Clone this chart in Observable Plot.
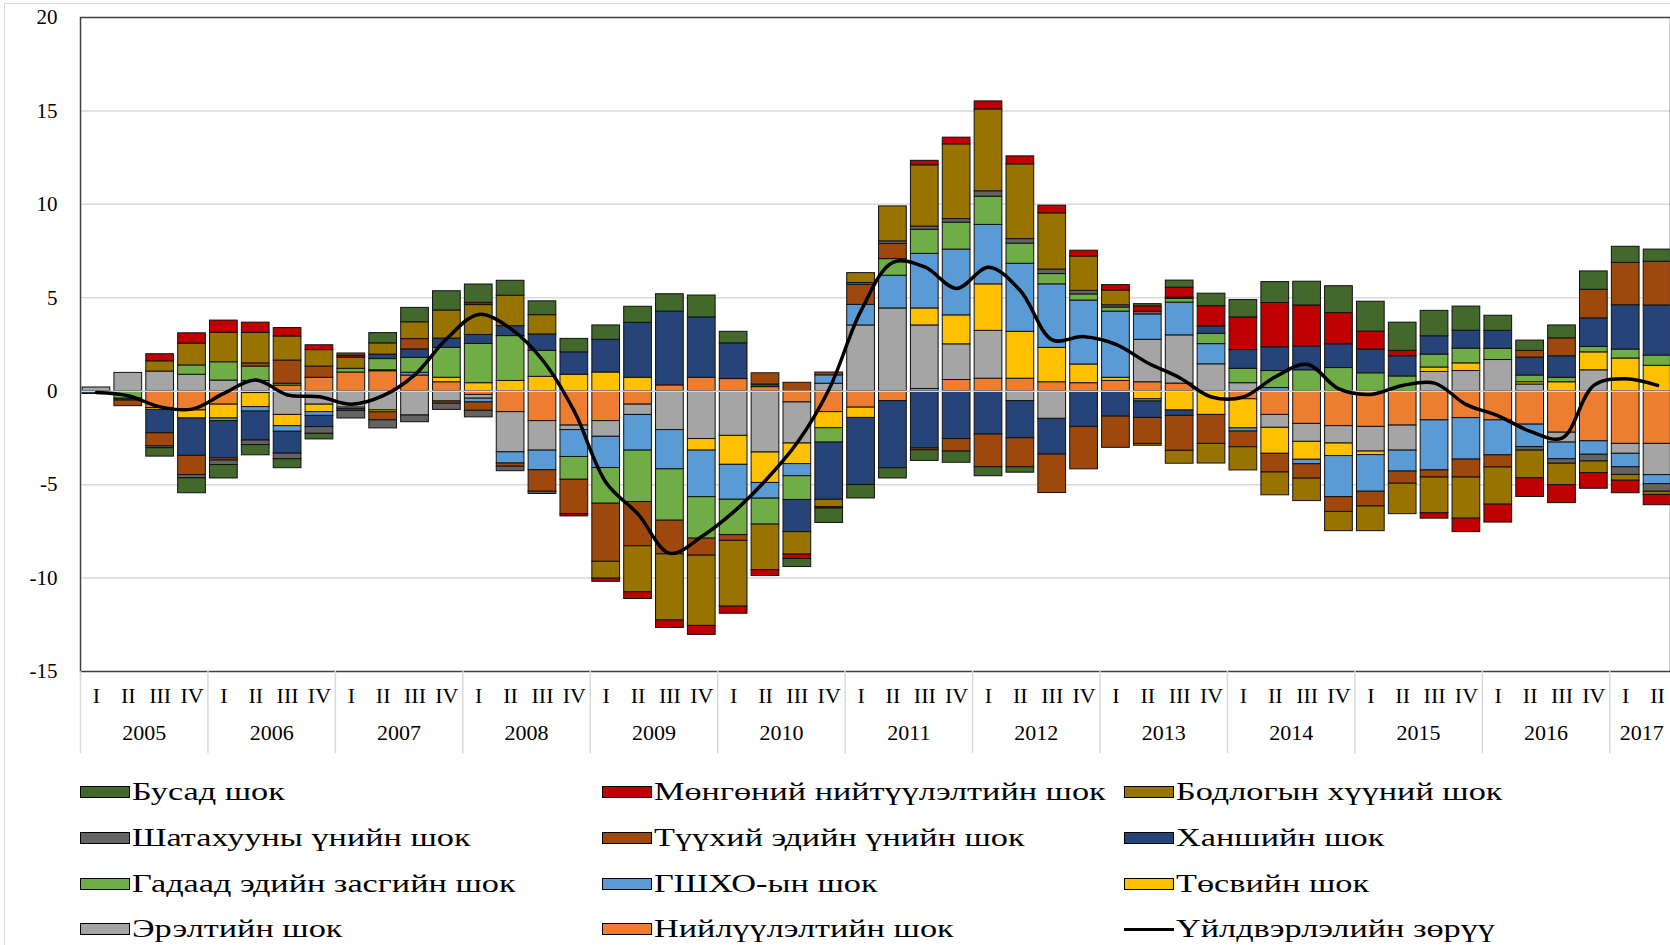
<!DOCTYPE html>
<html>
<head>
<meta charset="utf-8">
<script src="https://cdn.jsdelivr.net/npm/d3@7"></script>
<script src="https://cdn.jsdelivr.net/npm/@observablehq/plot@0.6"></script>
<style>
  html, body { margin: 0; padding: 0; background: #fff; }
  #wrap { position: relative; width: 1670px; height: 945px; overflow: hidden; font-family: "Liberation Serif", "Times New Roman", serif; }
  #border { position: absolute; left: 4px; top: 3px; width: 1700px; height: 1000px; border-left: 1.5px solid #d9d9d9; border-top: 1.5px solid #d9d9d9; pointer-events: none; z-index: 5; }
  #chart { position: absolute; left: 0; top: 0; }
  .leg { position: absolute; height: 30px; display: flex; align-items: center; white-space: nowrap; }
  .sw { width: 50px; height: 12px; box-sizing: border-box; border: 1px solid #000; flex: none; }
  .ln { width: 50px; height: 3px; background: #000; flex: none; }
  .lt { display: inline-block; margin-left: 2px; font-size: 25px; color: #000; transform: scaleX(1.37); transform-origin: 0 50%; }
</style>
</head>
<body>
<div id="wrap"><div id="chart"></div><div id="legend"></div><div id="border"></div></div>
<script>
// ---- categories / tick labels ----
const years = [2005, 2006, 2007, 2008, 2009, 2010, 2011, 2012, 2013, 2014, 2015, 2016, 2017];
const quarterLabels = ["I", "II", "III", "IV"];
const nQuarters = 50;

// ---- series (stack order from zero outward) ----
const seriesNames = [
  "Нийлүүлэлтийн шок", "Эрэлтийн шок", "Төсвийн шок", "ГШХО-ын шок", "Гадаад эдийн засгийн шок",
  "Ханшийн шок", "Түүхий эдийн үнийн шок", "Шатахууны үнийн шок", "Бодлогын хүүний шок",
  "Мөнгөний нийтүүлэлтийн шок", "Бусад шок"
];
const seriesColors = [
  "#ED7D31", "#A5A5A5", "#FFC000", "#5B9BD5", "#70AD47",
  "#264478", "#9E480E", "#636363", "#997300", "#C00000", "#43682B"
];
const lineName = "Үйлдвэрлэлийн зөрүү";

const supplyShock = [-0.05,0,-0.9,-1.03, -0.72,-0.1,0.3,0.72, 1.0,1.07,0.84,0.48, -0.2,-1.12,-1.6,-1.84, -1.6,-0.72,0.31,0.72, 0.65,0.22,-0.6,-1.12, -0.88,-0.53,0.12,0.6, 0.67,0.67,0.48,0.43, 0.55,0.48,0.41,0, -0.43,-1.27,-1.75,-1.87, -1.91,-1.84,-1.56,-1.44, -1.56,-1.79,-2.22,-2.68, -2.82,-2.82];
const demandShock = [0.2,0.98,1.05,0.88, 0.57,0.55,-1.27,-0.72, -0.88,-1.03,-1.3,-0.55, -0.2,-2.15,-1.58,-0.24, -0.84,-0.55,-2.08,-2.56, -2.39,-3.28,-2.2,0.4, 3.52,4.43,3.4,1.91, 2.56,-0.53,-1.48,0, 0,2.27,2.58,1.44, 0.43,-0.69,-0.96,-0.93, -1.32,-1.34,1.03,1.08, 1.67,0.36,-0.53,1.12, -0.53,-1.67];
const fiscalShock = [0,0,-0.1,-0.43, -0.74,-0.75,-0.6,-0.4, -0.08,-0.1,0,0.24, 0.43,0.55,0.77,0.88, 1.0,0.72,0,-0.62, -1.55,-1.63,-1.1,-0.86, -0.55,0,0.91,1.55, 2.49,2.51,1.84,1.0, 0.17,-0.43,-1.03,-1.27, -1.56,-1.39,-0.96,-0.67, -0.19,0,0.24,0.41, 0,0.12,0.48,0.96, 1.75,1.36];
const fdiShock = [0,0,0,0, -0.14,-0.24,-0.3,-0.2, 0,0.05,0.15,0, -0.2,-0.6,-1.05,-1.44, -1.67,-1.91,-2.1,-2.49, -1.87,-0.84,-0.65,0.45, 1.1,1.75,2.92,3.52, 3.18,3.64,3.4,3.42, 3.54,1.36,1.75,1.08, -0.17,0.17,-0.24,-2.2, -1.96,-1.12,-2.68,-2.22, -1.87,-1.2,-0.89,-0.72, -0.72,-0.48];
const externalShock = [0,-0.4,0,0.5, 0.98,0.77,0.1,0, 0.2,0.6,0.8,1.6, 2.1,2.4,1.39,-1.22, -1.91,-2.75,-2.75,-2.22, -1.89,-1.39,-1.27,-0.77, 0,0.89,1.29,1.44, 1.51,1.08,0.55,0.33, 0.22,-0.12,0.2,0.55, 0.77,0.91,1.12,1.24, 0.96,0.79,0.69,0.79, 0.6,0.36,0.24,0.29, 0.48,0.55];
const exchangeShock = [-0.1,-0.1,-1.25,-2.0, -1.99,-1.55,-1.17,-0.6, -0.1,0.24,0.45,0.5, 0.48,0.53,0.88,1.2, 1.75,2.94,3.95,3.23, 1.91,0.14,-1.72,-3.06, -3.59,-3.59,-3.06,-2.56, -2.32,-1.99,-1.91,-1.91, -1.36,-0.88,-0.29,0.4, 1.0,1.27,1.27,1.27, 1.27,1.08,0.98,0.96, 0.96,0.96,1.15,1.53, 2.37,2.68];
const commodityShock = [0,-0.3,-0.7,-1.03, -0.12,0.17,1.24,0.6, 0,-0.43,0.55,-0.12, -0.45,-0.17,-1.15,-1.84, -3.11,-2.37,-1.8,-0.91, -0.31,0.6,0.45,0.15, 1.07,0.81,-0.1,-0.67, -1.75,-1.55,-2.06,-2.27, -1.67,-1.39,-1.87,-1.55, -0.84,-1.0,-0.77,-0.79, -0.79,-0.65,-0.38,-0.96, -0.65,0.36,0.96,1.53, 2.27,2.34];
const fuelShock = [0,0,-0.1,-0.17, -0.24,-0.24,-0.3,-0.36, -0.4,-0.43,-0.36,-0.33, -0.35,-0.24,-0.12,0, 0,0,0,0, 0,0,0,0, 0.1,0.14,0.17,0.19, 0.29,0.24,0.24,0.19, 0.12,0.14,0.07,0, 0,0,0,0, 0,0,0,0, 0,-0.19,-0.24,-0.36, -0.41,-0.41];
const policyRateShock = [0,0,0.55,1.17, 1.58,1.63,1.29,0.88, 0.6,0.6,0.9,1.5, 1.6,1.63,1.03,0, -0.9,-2.46,-3.54,-3.76, -3.52,-2.44,-1.2,-0.4, 0.53,1.87,3.28,4.0, 4.38,4.0,3.01,1.84, 0.79,-0.1,-0.69,-1.05, -1.24,-1.22,-1.2,-1.03, -1.32,-1.63,-1.91,-2.2, -1.99,-1.48,-1.15,-0.62, -0.31,-0.17];
const moneySupplyShock = [0,0,0.38,0.55, 0.65,0.55,0.45,0.26, 0.1,0,0,0, 0.12,0,0,-0.12, -0.17,-0.36,-0.4,-0.48, -0.38,-0.31,-0.24,-0.07, 0,0,0.24,0.36, 0.43,0.43,0.41,0.31, 0.29,0.29,0.53,1.08, 1.75,2.37,2.2,1.67, 0.96,0.29,-0.29,-0.72, -0.96,-1.0,-0.96,-0.84, -0.67,-0.55];
const otherShock = [0,0,-0.45,-0.8, -0.72,-0.55,-0.48,-0.3, 0.12,0.55,0.77,1.03, 0.98,0.8,0.74,0.72, 0.77,0.86,0.93,1.17, 0.62,0,-0.43,-0.77, -0.72,-0.55,-0.57,-0.6, -0.48,-0.29,0,0, 0,0.12,0.38,0.67, 0.93,1.12,1.27,1.44, 1.6,1.51,1.36,1.29, 0.81,0.55,0.69,0.98, 0.86,0.65];
const outputGap = [-0.07,-0.24,-0.84,-0.96, -0.12,0.6,-0.2,-0.3, -0.7,-0.24,0.89,2.82, 4.11,3.35,1.67,-1.08, -4.9,-6.58,-8.68,-7.78, -6.46,-4.78,-2.75,0.12, 4.31,6.9,6.65,5.5, 6.63,5.38,2.75,2.92, 2.51,1.51,0.72,-0.31, -0.31,0.77,1.44,0.12, -0.17,0.31,0.43,-0.72, -1.32,-2.15,-2.51,0.31, 0.67,0.31];

const seriesValues = [supplyShock, demandShock, fiscalShock, fdiShock, externalShock, exchangeShock,
  commodityShock, fuelShock, policyRateShock, moneySupplyShock, otherShock];
const yTicks = [-15, -10, -5, 0, 5, 10, 15, 20];

// ---- build tables ----
const keys = [];
years.forEach(y => quarterLabels.forEach(q => keys.push(y + "-" + q)));
const qKeys = keys.slice(0, nQuarters);

const bars = [];
qKeys.forEach((k, i) => {
  seriesNames.forEach((s, j) => {
    const v = seriesValues[j][i];
    if (v !== 0) bars.push({q: k, series: s, value: v});
  });
});
const lineData = qKeys.map((k, i) => ({q: k, v: outputGap[i]}));

const x0 = 80, x1 = 1673, pIn = 0.13, pOut = 0.065;
const step = (x1 - x0) / (nQuarters - pIn + 2 * pOut);
const font = '"Liberation Serif", "Times New Roman", serif';

const yearCenters = years.map(y => {
  const n = qKeys.filter(k => k.startsWith(y + "-")).length;
  return {year: String(y), key: n === 4 ? y + "-II" : y + "-I"};
});
const yearStarts = years.map(y => y + "-I");
const firstKey = qKeys[0];

const plot = Plot.plot({
  width: 1670,
  height: 770,
  marginTop: 17,
  marginBottom: 99,
  marginLeft: 80,
  marginRight: 0,
  style: {overflow: "visible", background: "transparent"},
  x: {domain: qKeys, range: [x0, x1], paddingInner: pIn, paddingOuter: pOut, axis: null},
  y: {domain: [-15, 20], axis: null},
  color: {domain: seriesNames, range: seriesColors},
  marks: [
    Plot.ruleY([15, 10, 5, -5, -10], {stroke: "#d9d9d9", strokeWidth: 1.5}),
    Plot.barY(bars, {x: "q", y: "value", fill: "series", stroke: "#111", strokeWidth: 1, order: null}),
    Plot.ruleY([0], {stroke: "#d4d4d4", strokeWidth: 1.5}),
    Plot.line(lineData, {x: "q", y: "v", curve: "catmull-rom", stroke: "#000", strokeWidth: 3.5}),
    Plot.frame({stroke: "#404040", strokeWidth: 1.5}),
    Plot.ruleX(yearStarts, {x: d => d, y1: -15, y2: -19.4, dx: -step / 2, stroke: "#d9d9d9", strokeWidth: 1.5}),
    Plot.text(yTicks, {x: () => firstKey, y: d => d, text: d => String(d), textAnchor: "end", dx: -(step * (pOut + (1 - pIn) / 2)) - 23, fontSize: 21, fontFamily: font, fill: "#000", ariaLabel: "ylab"}),
    Plot.text(qKeys, {x: d => d, y: -15, text: (d, i) => quarterLabels[i % 4], dy: 24, fontSize: 22, fontFamily: font, fill: "#000", ariaLabel: "qlab"}),
    Plot.text(yearCenters, {x: "key", y: -15, text: "year", dx: step / 2, dy: 61, fontSize: 22, fontFamily: font, fill: "#000", ariaLabel: "yrlab"})
  ]
});
document.getElementById("chart").appendChild(plot);

function stretch(sel, s) {
  plot.querySelectorAll(sel).forEach(t => {
    const L = t.getComputedTextLength();
    t.setAttribute("textLength", (L * s).toFixed(2));
    t.setAttribute("lengthAdjust", "spacingAndGlyphs");
  });
}
stretch('g[aria-label="ylab"] text', 1.45);
stretch('g[aria-label="qlab"] text', 1.15);
stretch('g[aria-label="yrlab"] text', 1.22);

// ---- legend ----
const legendRows = [
  ["Бусад шок", "Мөнгөний нийтүүлэлтийн шок", "Бодлогын хүүний шок"],
  ["Шатахууны үнийн шок", "Түүхий эдийн үнийн шок", "Ханшийн шок"],
  ["Гадаад эдийн засгийн шок", "ГШХО-ын шок", "Төсвийн шок"],
  ["Эрэлтийн шок", "Нийлүүлэлтийн шок", lineName]
];
const legCols = [80, 602, 1124];
const legRowsY = [792, 838, 884, 929];
const legend = document.getElementById("legend");
legendRows.forEach((row, r) => row.forEach((name, c) => {
  const item = document.createElement("div");
  item.className = "leg";
  item.style.left = legCols[c] + "px";
  item.style.top = (legRowsY[r] - 15) + "px";
  const sw = document.createElement("span");
  if (name === lineName) sw.className = "ln";
  else { sw.className = "sw"; sw.style.background = seriesColors[seriesNames.indexOf(name)]; }
  const t = document.createElement("span");
  t.className = "lt";
  t.textContent = name;
  item.appendChild(sw); item.appendChild(t);
  legend.appendChild(item);
}));
</script>
</body>
</html>
